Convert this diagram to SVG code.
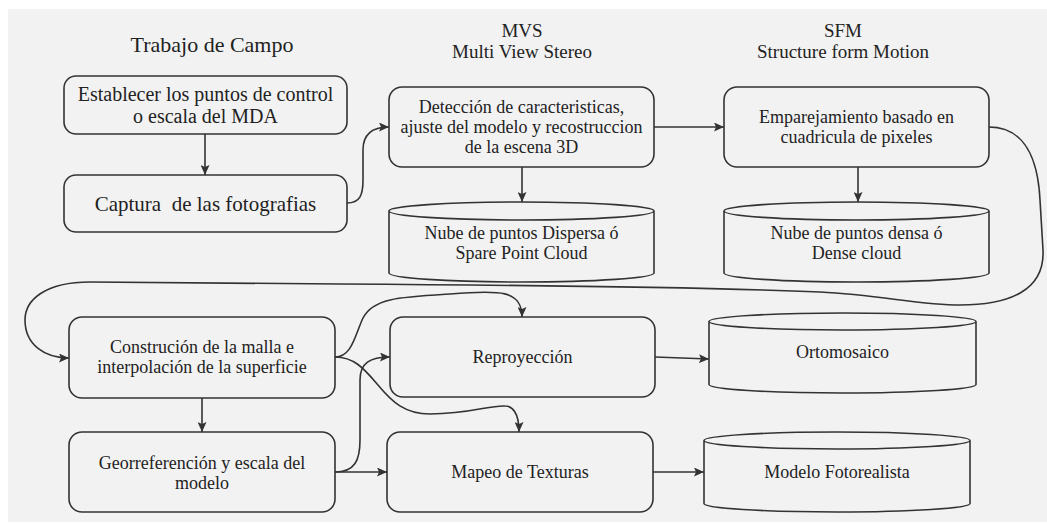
<svg xmlns="http://www.w3.org/2000/svg" width="1047" height="523" viewBox="0 0 1047 523">
<style>
.bg{fill:#f2f2f2}
.box{fill:#f2f2f2;stroke:#333;stroke-width:1.6}
.cyl{fill:#f2f2f2;stroke:#333;stroke-width:1.6}
.t{font-family:"Liberation Serif","Times New Roman",serif;font-size:18px;fill:#222;text-anchor:middle}
.big{font-size:21px}
.title{font-size:19px}
.con path{fill:none;stroke:#333;stroke-width:1.6}
</style>
<defs>
<marker id="ah" viewBox="0 0 10 9" markerWidth="10" markerHeight="9" refX="10" refY="4.5" orient="auto" markerUnits="userSpaceOnUse">
<path d="M0,0 L10,4.5 L0,9 L2,4.5 z" fill="#333"/>
</marker>
</defs>
<rect x="0" y="0" width="1047" height="523" fill="#ffffff"/>
<rect class="bg" x="8" y="9" width="1039" height="513"/>

<g id="titles">
<text class="t" x="212" y="52" style="font-size:22px">Trabajo de Campo</text>
<text class="t title" x="522" y="37">MVS</text>
<text class="t title" x="522" y="58">Multi View Stereo</text>
<text class="t title" x="843" y="37">SFM</text>
<text class="t title" x="843" y="58">Structure form Motion</text>
</g>

<g id="n-puntos-control">
<rect class="box" x="64" y="76" width="283" height="58" rx="12"/>
<text class="t" x="205.5" y="100.5" style="font-size:20px">Establecer los puntos de control</text>
<text class="t" x="205.5" y="122.5" style="font-size:20px">o escala del MDA</text>
</g>

<g id="n-captura">
<rect class="box" x="64" y="175" width="283" height="57" rx="12"/>
<text class="t big" x="205.5" y="211" xml:space="preserve">Captura  de las fotografias</text>
</g>

<g id="n-deteccion">
<rect class="box" x="389" y="87" width="265" height="80" rx="13"/>
<text class="t" x="521.5" y="113">Detección de caracteristicas,</text>
<text class="t" x="521.5" y="133">ajuste del modelo y recostruccion</text>
<text class="t" x="521.5" y="153">de la escena 3D</text>
</g>

<g id="n-emparejamiento">
<rect class="box" x="724" y="87" width="265" height="80" rx="13"/>
<text class="t" x="856.5" y="123">Emparejamiento basado en</text>
<text class="t" x="856.5" y="143">cuadricula de pixeles</text>
</g>

<g id="n-nube-dispersa">
<path class="cyl" d="M389,211 A132.5,9 0 0 1 654,211 A132.5,9 0 0 1 389,211 V273 A132.5,9 0 0 0 654,273 V211"/>
<text class="t" x="521.5" y="239">Nube de puntos Dispersa ó</text>
<text class="t" x="521.5" y="259">Spare Point Cloud</text>
</g>

<g id="n-nube-densa">
<path class="cyl" d="M724,211 A132.5,9 0 0 1 989,211 A132.5,9 0 0 1 724,211 V273 A132.5,9 0 0 0 989,273 V211"/>
<text class="t" x="856.5" y="239">Nube de puntos densa ó</text>
<text class="t" x="856.5" y="259">Dense cloud</text>
</g>

<g id="n-malla">
<rect class="box" x="69" y="317" width="266" height="81" rx="13"/>
<text class="t" x="202" y="353">Construción de la malla e</text>
<text class="t" x="202" y="373">interpolación de la superficie</text>
</g>

<g id="n-georreferencion">
<rect class="box" x="69" y="432" width="266" height="80" rx="13"/>
<text class="t" x="202" y="468.5">Georreferención y escala del</text>
<text class="t" x="202" y="488.5">modelo</text>
</g>

<g id="n-reproyeccion">
<rect class="box" x="390" y="317" width="265" height="80" rx="13"/>
<text class="t" x="522.5" y="363">Reproyección</text>
</g>

<g id="n-mapeo">
<rect class="box" x="387" y="432" width="266" height="80" rx="13"/>
<text class="t" x="520" y="478">Mapeo de Texturas</text>
</g>

<g id="n-ortomosaico">
<path class="cyl" d="M709,321.5 A133.5,8.5 0 0 1 976,321.5 A133.5,8.5 0 0 1 709,321.5 V384.5 A133.5,8.5 0 0 0 976,384.5 V321.5"/>
<text class="t" x="842.5" y="358">Ortomosaico</text>
</g>

<g id="n-modelo">
<path class="cyl" d="M704,440.5 A133,8.5 0 0 1 970,440.5 A133,8.5 0 0 1 704,440.5 V503.5 A133,8.5 0 0 0 970,503.5 V440.5"/>
<text class="t" x="837" y="478">Modelo Fotorealista</text>
</g>

<g class="con" id="connectors">
<path d="M205,134 V175" marker-end="url(#ah)"/>
<path d="M347,203 C360,203 363,195 363,180 L363,150 C363,134 372,127 389,127" marker-end="url(#ah)"/>
<path d="M522,167 V202" marker-end="url(#ah)"/>
<path d="M654,127 H724" marker-end="url(#ah)"/>
<path d="M858,167 V202" marker-end="url(#ah)"/>
<path d="M989,127 C1025,127 1038,160 1040,200 L1043,250 C1045,290 1010,305 960,305 C920,305 880,295 820,292 C700,287 500,285 340,284 L90,282 C45,282 25,300 25,320 C25,345 45,358 69,358" marker-end="url(#ah)"/>
<path d="M202,398 V432" marker-end="url(#ah)"/>
<path d="M335,357 C352,357 355,335 363,318 C373,298 400,297 450,294 C500,290 522,290 522,317" marker-end="url(#ah)"/>
<path d="M335,357 C355,357 365,370 378,385 C392,402 405,414 430,414 C470,414 490,405 505,406 C512,406 519,412 519,432" marker-end="url(#ah)"/>
<path d="M335,472 C355,472 360,460 360,440 L360,380 C360,363 370,357 390,357" marker-end="url(#ah)"/>
<path d="M335,472 H387" marker-end="url(#ah)"/>
<path d="M655,357 L709,359" marker-end="url(#ah)"/>
<path d="M653,472 H704" marker-end="url(#ah)"/>
</g>
</svg>
